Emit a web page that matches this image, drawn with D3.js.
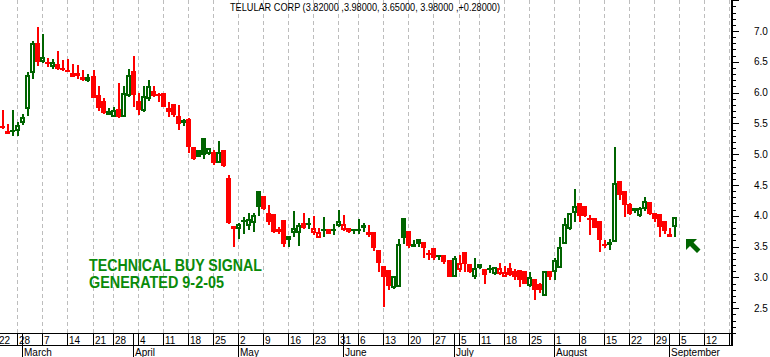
<!DOCTYPE html>
<html><head><meta charset="utf-8">
<script src="https://cdn.jsdelivr.net/npm/d3@7"></script>
<style>html,body{margin:0;padding:0;background:#fff;overflow:hidden}svg{display:block}</style>
</head><body>
<svg id="c" width="770" height="357"></svg>
<script>
// ---- data (trading days 2005-02-22 .. 2005-09-02) ----
const holidays = ["2005-02-21","2005-03-25","2005-05-30","2005-07-04"];
const firstDay = "2005-02-22", lastAxisDay = "2005-09-19";
const ticker = "TELULAR CORP";

const openP = [
 5.55, 5.45, 5.38, 5.37,
 5.38, 5.50, 5.73, 6.32, 6.80,
 6.49, 6.49, 6.42, 6.46, 6.40,
 6.37, 6.26, 6.32, 6.25, 6.19,
 6.27, 5.96, 5.86, 5.64,
 5.61, 5.73, 5.60, 5.95, 6.35,
 5.86, 5.70, 5.89, 6.02, 5.97,
 6.00, 5.75, 5.81, 5.62, 5.50,
 5.57, 5.12, 5.07, 5.26, 5.01,
 5.03, 4.85, 5.07, 4.62, 3.83,
 3.78, 3.91, 3.83, 3.89, 4.40,
 4.32, 4.04, 4.03, 3.78, 3.93,
 3.61, 3.72, 3.72, 3.88, 3.87,
 3.72, 3.64, 3.76, 3.78, 3.77,
 3.83, 3.77, 3.80, 3.78,
 3.76, 3.85, 3.74, 3.73, 3.44,
 3.18, 3.12, 2.82, 2.85, 3.97,
 3.76, 3.50, 3.62, 3.57, 3.39,
 3.47, 3.37, 3.37, 3.28, 3.01,
 3.12, 3.42, 3.21, 3.00,
 3.15, 3.13, 3.12, 3.05, 3.06,
 3.01, 3.15, 3.11, 3.12, 3.10,
 2.86, 2.97, 2.90, 2.69, 3.11,
 3.08, 3.16, 3.55, 3.78, 4.05,
 4.20, 4.16, 3.97, 3.96, 3.92,
 3.54, 3.53, 3.58, 4.57, 4.41,
 4.19, 4.12, 3.99, 4.11, 4.22,
 4.05, 4.03, 3.92, 3.65, 3.82
];
const highP = [
 5.60, 5.71, 5.49, 5.71,
 5.53, 5.66, 6.34, 6.84, 7.07,
 6.95, 6.56, 6.55, 6.68, 6.53,
 6.55, 6.46, 6.45, 6.37, 6.30,
 6.37, 6.10, 5.92, 5.75,
 5.76, 6.16, 6.10, 6.39, 6.59,
 6.00, 6.11, 6.20, 6.11, 5.99,
 6.00, 5.84, 5.81, 5.80, 5.57,
 5.58, 5.12, 5.07, 5.26, 5.10,
 5.07, 5.22, 5.07, 4.66, 3.83,
 3.89, 3.98, 4.04, 4.04, 4.40,
 4.32, 4.18, 4.03, 3.82, 3.93,
 3.67, 4.08, 3.88, 4.04, 3.97,
 3.99, 3.80, 3.98, 3.78, 3.86,
 4.09, 4.01, 3.81, 3.78,
 3.95, 3.88, 3.85, 3.73, 3.44,
 3.18, 3.12, 3.02, 3.63, 3.97,
 3.76, 3.61, 3.62, 3.57, 3.44,
 3.47, 3.37, 3.37, 3.28, 3.34,
 3.36, 3.42, 3.22, 3.31,
 3.21, 3.13, 3.20, 3.17, 3.24,
 3.18, 3.23, 3.13, 3.12, 3.11,
 3.08, 2.97, 2.91, 3.11, 3.11,
 3.31, 3.65, 3.96, 4.04, 4.43,
 4.21, 4.16, 4.01, 3.97, 3.92,
 3.61, 3.62, 5.12, 4.57, 4.41,
 4.20, 4.12, 4.15, 4.30, 4.22,
 4.05, 4.03, 3.92, 3.80, 3.98
];
const lowP = [
 5.45, 5.41, 5.33, 5.30,
 5.30, 5.47, 5.62, 6.22, 6.43,
 6.48, 6.42, 6.38, 6.37, 6.35,
 6.33, 6.25, 6.22, 6.19, 6.18,
 5.91, 5.70, 5.65, 5.63,
 5.60, 5.59, 5.60, 5.93, 5.76,
 5.63, 5.69, 5.87, 5.93, 5.85,
 5.76, 5.60, 5.60, 5.39, 5.46,
 5.02, 4.91, 4.96, 4.92, 4.99,
 4.82, 4.85, 4.79, 3.87, 3.50,
 3.62, 3.70, 3.77, 3.74, 4.00,
 4.10, 3.85, 3.72, 3.70, 3.50,
 3.50, 3.66, 3.51, 3.78, 3.78,
 3.69, 3.64, 3.66, 3.70, 3.69,
 3.82, 3.76, 3.72, 3.70,
 3.70, 3.74, 3.66, 3.43, 3.08,
 2.52, 2.80, 2.81, 2.85, 3.55,
 3.48, 3.50, 3.50, 3.31, 3.29,
 3.28, 3.29, 3.22, 3.00, 3.00,
 3.09, 3.09, 3.07, 2.98,
 3.14, 2.90, 3.07, 3.04, 3.04,
 3.01, 3.02, 2.96, 2.85, 2.89,
 2.85, 2.63, 2.74, 2.69, 2.96,
 2.96, 3.16, 3.54, 3.77, 3.90,
 3.90, 3.98, 3.69, 3.80, 3.42,
 3.47, 3.44, 3.57, 4.26, 3.98,
 4.01, 4.04, 3.98, 4.08, 4.01,
 3.90, 3.66, 3.70, 3.65, 3.65
];
const closeP = [
 5.50, 5.42, 5.33, 5.40,
 5.47, 5.60, 6.29, 6.80, 6.50,
 6.57, 6.46, 6.50, 6.38, 6.36,
 6.34, 6.32, 6.27, 6.21, 6.26,
 5.92, 5.75, 5.67, 5.70,
 5.72, 5.61, 6.00, 6.29, 5.96,
 5.71, 5.94, 6.11, 5.95, 5.94,
 5.77, 5.69, 5.64, 5.49, 5.56,
 5.12, 4.92, 4.96, 4.99, 5.10,
 4.85, 5.03, 4.81, 3.88, 3.79,
 3.86, 3.93, 3.94, 4.01, 4.15,
 4.11, 3.90, 3.74, 3.73, 3.55,
 3.67, 3.80, 3.85, 3.80, 3.89,
 3.80, 3.73, 3.79, 3.71, 3.79,
 3.92, 3.87, 3.73, 3.75,
 3.78, 3.80, 3.69, 3.48, 3.23,
 3.01, 2.86, 3.02, 3.55, 3.64,
 3.51, 3.54, 3.55, 3.47, 3.36,
 3.31, 3.33, 3.25, 3.01, 3.32,
 3.24, 3.22, 3.09, 3.15,
 3.21, 3.04, 3.15, 3.17, 3.15,
 3.08, 3.04, 3.00, 2.96, 2.90,
 3.01, 2.80, 2.79, 3.11, 3.01,
 3.28, 3.50, 3.86, 4.04, 4.16,
 4.00, 3.99, 3.95, 3.81, 3.61,
 3.51, 3.57, 4.53, 4.34, 4.18,
 4.03, 4.07, 4.12, 4.24, 4.03,
 3.94, 3.82, 3.76, 3.70, 3.98
];

const weekTicks = ["2005-02-22","2005-02-28","2005-03-07","2005-03-14","2005-03-21","2005-03-28",
 "2005-04-04","2005-04-11","2005-04-18","2005-04-25","2005-05-02","2005-05-09","2005-05-16",
 "2005-05-23","2005-05-31","2005-06-06","2005-06-13","2005-06-20","2005-06-27","2005-07-05",
 "2005-07-11","2005-07-18","2005-07-25","2005-08-01","2005-08-08","2005-08-15","2005-08-22",
 "2005-08-29","2005-09-05","2005-09-12","2005-09-19"];
const monthTicks = ["2005-03-01","2005-04-01","2005-05-02","2005-06-01","2005-07-01","2005-08-01","2005-09-01"];
const monthNames = ["March","April","May","June","July","August","September"];
const priceLabels = [2.5,3.0,3.5,4.0,4.5,5.0,5.5,6.0,6.5,7.0];
const signalText = ["TECHNICAL BUY SIGNAL","GENERATED 9-2-05"];
const arrowDay = "2005-09-06", arrowPrice = 3.62;

// ---- build ----
const fmt = d3.timeFormat("%Y-%m-%d"), parse = d3.timeParse("%Y-%m-%d");
const days = d3.timeDay.range(parse(firstDay), d3.timeDay.offset(parse(lastAxisDay),1))
  .filter(d => d.getDay() % 6 !== 0 && !holidays.includes(fmt(d))).map(fmt);

const W = 770, H = 357, plotR = 731, plotB = 333;
const x = d3.scalePoint().domain(days).range([-2.76, 729.3]);
const y = d3.scaleLinear().domain([2.5, 7.0]).range([308.2, 31]);

const GREEN = "#006400", RED = "#ff0000", TXTGREEN = "#0a8a0a";
const svg = d3.select("#c");
svg.append("rect").attr("width", W).attr("height", H).attr("fill", "#fff");

svg.append("defs").append("clipPath").attr("id","pc")
  .append("rect").attr("x",0).attr("y",0).attr("width",plotR).attr("height",plotB);

// grid
svg.append("g").selectAll("line").data(weekTicks).join("line")
  .attr("x1", d => Math.round(x(d)) + 0.5).attr("x2", d => Math.round(x(d)) + 0.5)
  .attr("y1", 0).attr("y2", plotB)
  .attr("stroke", "#bdbdbd").attr("stroke-width", 1).attr("stroke-dasharray", "4,3");

// title
const n = closeP.length - 1;
const chg = closeP[n] - closeP[n-1];
svg.append("text").attr("x", 365).attr("y", 11).attr("text-anchor","middle")
  .attr("font-family","Liberation Sans, Arial, sans-serif").attr("font-size", 10)
  .attr("textLength", 270).attr("lengthAdjust","spacingAndGlyphs")
  .text(`${ticker} (${openP[n].toFixed(5)} ,${highP[n].toFixed(5)}, ${lowP[n].toFixed(5)}, ${closeP[n].toFixed(5)} ,${chg>=0?"+":""}${chg.toFixed(5)})`);

// candles
const data = closeP.map((c,i) => ({key: days[i], o: openP[i], h: highP[i], l: lowP[i], c,
  up: i === 0 ? true : c >= closeP[i-1]}));
const cg = svg.append("g").attr("clip-path","url(#pc)");
data.forEach(d => {
  const cx = Math.round(x(d.key));
  const col = d.up ? GREEN : RED;
  const yh = Math.round(y(d.h)), yl = Math.round(y(d.l));
  const top = Math.round(y(Math.max(d.o,d.c))), bot = Math.round(y(Math.min(d.o,d.c)));
  const bh = bot - top;
  cg.append("rect").attr("x", cx).attr("y", yh).attr("width", 2).attr("height", Math.max(yl - yh, 1)).attr("fill", col);
  if (d.c > d.o && bh >= 4) {
    cg.append("rect").attr("x", cx - 1).attr("y", top + 1).attr("width", 3).attr("height", bh - 2)
      .attr("fill", "#fff").attr("stroke", col).attr("stroke-width", 2);
  } else {
    cg.append("rect").attr("x", cx - 2).attr("y", top).attr("width", 5).attr("height", Math.max(bh, 2)).attr("fill", col);
  }
});

// signal text
svg.append("g").selectAll("text").data(signalText).join("text")
  .attr("x", 89).attr("y", (d,i) => 270.5 + i*17)
  .attr("font-family","Liberation Sans, Arial, sans-serif").attr("font-weight","bold").attr("font-size", 16.5)
  .attr("fill", TXTGREEN)
  .attr("textLength", (d,i) => i === 0 ? 173 : 135).attr("lengthAdjust","spacingAndGlyphs")
  .text(d => d);

// arrow (pointing up-left toward the last candle)
const ax = Math.round(x(arrowDay)) + 2, ay = Math.round(y(arrowPrice));
svg.append("path").attr("d",
  `M${ax},${ay} L${ax+11},${ay} L${ax+7.5},${ay+3.5} L${ax+14.5},${ay+10.5} L${ax+11},${ay+14} L${ax+4},${ay+7} L${ax},${ay+11} Z`)
  .attr("fill", GREEN);

// right axis
const ra = svg.append("g").attr("transform", `translate(${plotR},0)`);
ra.append("rect").attr("x", 0).attr("y", 0).attr("width", 2).attr("height", 345).attr("fill", "#000");
const minor = d3.range(21, 76).map(v => v/10);
ra.selectAll("line.mn").data(minor).join("line").attr("class","mn")
  .attr("x1", 2).attr("x2", d => (Math.round(d*10) % 5 === 0) ? 8 : 5)
  .attr("y1", d => Math.round(y(d)) + 0.5).attr("y2", d => Math.round(y(d)) + 0.5)
  .attr("stroke", "#000").attr("stroke-width", 1);
ra.selectAll("text").data(priceLabels).join("text")
  .attr("x", 23).attr("y", d => y(d)).attr("dy", "0.35em")
  .attr("font-family","Liberation Sans, Arial, sans-serif").attr("font-size", 10)
  .text(d => d.toFixed(1));

// bottom axis
const ba = svg.append("g");
ba.append("line").attr("x1",0).attr("x2",plotR+2).attr("y1",333.5).attr("y2",333.5).attr("stroke","#000");
ba.append("line").attr("x1",0).attr("x2",plotR+2).attr("y1",345.5).attr("y2",345.5).attr("stroke","#000");
ba.selectAll("line.wk").data(weekTicks).join("line").attr("class","wk")
  .attr("x1", d => Math.round(x(d)) + 0.5).attr("x2", d => Math.round(x(d)) + 0.5)
  .attr("y1", 333).attr("y2", 345).attr("stroke","#000");
ba.selectAll("text.wk").data(weekTicks.slice(0, -1)).join("text").attr("class","wk")
  .attr("x", d => Math.round(x(d)) + 2).attr("y", 343.5)
  .attr("font-family","Liberation Sans, Arial, sans-serif").attr("font-size", 10)
  .text(d => +d.slice(8));
ba.selectAll("line.mo").data(monthTicks).join("line").attr("class","mo")
  .attr("x1", d => Math.round(x(d)) + 0.5).attr("x2", d => Math.round(x(d)) + 0.5)
  .attr("y1", 333).attr("y2", 357).attr("stroke","#000");
ba.selectAll("text.mo").data(monthTicks).join("text").attr("class","mo")
  .attr("x", d => Math.round(x(d)) + 2).attr("y", 355.5)
  .attr("font-family","Liberation Sans, Arial, sans-serif").attr("font-size", 10)
  .text((d,i) => monthNames[i]);
</script>
</body></html>
